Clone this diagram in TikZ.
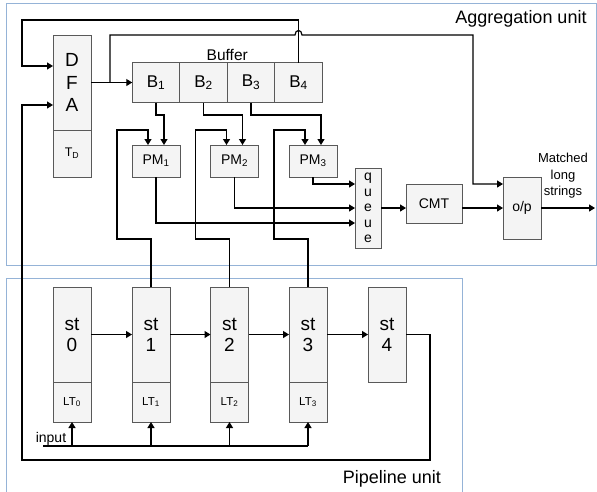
\documentclass[tikz,border=0pt]{standalone}
\usepackage{fontspec}
\setmainfont{Liberation Sans}
\usetikzlibrary{arrows.meta,positioning}
\definecolor{unitblue}{RGB}{149,179,215}
\definecolor{boxfill}{RGB}{244,244,244}

\begin{document}
\begin{tikzpicture}[x=1pt, y=-1pt,
  blk/.style={draw=black!65, fill=boxfill, line width=0.9pt, inner sep=0pt,
    outer sep=0pt, align=center},
  stage/.style={blk, minimum width=38pt, minimum height=95pt,
    font=\fontsize{19}{21}\selectfont},
  lt/.style={blk, minimum width=38pt, minimum height=40pt,
    font=\fontsize{11.5}{13}\selectfont},
  cell/.style={blk, minimum width=47.5pt, minimum height=40pt,
    font=\fontsize{17}{19}\selectfont},
  pm/.style={blk, minimum width=48pt, minimum height=32pt,
    font=\fontsize{14}{16}\selectfont},
  unit/.style={draw=unitblue, line width=0.9pt},
  lbl/.style={inner sep=1pt, font=\fontsize{14}{16}\selectfont},
  wire/.style={line width=1.2pt},
  arr/.style={wire, -{Triangle[length=6pt, width=7pt]}}
]
  \useasboundingbox (0,0) rectangle (597,491);

  % the two units
  \draw[unit] (6,3) rectangle (596,265);
  \node[lbl, font=\fontsize{18}{20}\selectfont] (agglbl) at (521,19) {Aggregation unit};
  \draw[unit] (6,278) rectangle (462,495);
  \node[lbl, font=\fontsize{18}{20}\selectfont] (pipelbl) at (392,479) {Pipeline unit};

  % aggregation side
  \node[stage, font=\fontsize{19}{22.5}\selectfont] (dfa) at (72,82.5) {D\\F\\A};
  \node[lt, minimum height=47pt, font=\fontsize{12.5}{14}\selectfont, below=0pt of dfa] (td) {T\textsubscript{D}};

  \node[cell] (b1) at (156,82.5) {B\textsubscript{1}};
  \node[cell, right=0pt of b1] (b2) {B\textsubscript{2}};
  \node[cell, right=0pt of b2] (b3) {B\textsubscript{3}};
  \node[cell, right=0pt of b3] (b4) {B\textsubscript{4}};
  \node[lbl, font=\fontsize{15.5}{17}\selectfont, above=0.5pt of b2.north east] (buflbl) {Buffer};

  \node[pm] (pm1) at (156,161) {PM\textsubscript{1}};
  \node[pm] (pm2) at (234.5,161) {PM\textsubscript{2}};
  \node[pm] (pm3) at (313,161) {PM\textsubscript{3}};

  \node[blk, minimum width=26pt, minimum height=80pt, font=\fontsize{14}{15.5}\selectfont] (q) at (368,208) {q\\u\\e\\u\\e};
  \node[blk, minimum width=56pt, minimum height=39pt, font=\fontsize{14}{16}\selectfont] (cmt) at (434,203.5) {CMT};
  \node[blk, minimum width=38pt, minimum height=62pt, font=\fontsize{14}{16}\selectfont] (op) at (522,208) {o/p};
  \coordinate (out) at (595,208);
  \node[lbl, align=center, font=\fontsize{13}{16.5}\selectfont] (outlbl) at (563,176) {Matched\\long\\strings};

  % pipeline side
  \foreach \i/\x in {0/72,1/151,2/229.5,3/308} {
    \node[stage] (st\i) at (\x,334.5) {st\\\i};
    \node[lt, below=0pt of st\i] (lt\i) {LT\textsubscript{\i}};
  }
  \node[stage] (st4) at (387,334.5) {st\\4};

  \coordinate (split) at (110,82.5);
  \coordinate (drop) at (473,35);
  \coordinate (hop) at (b4.north |- drop);
  \coordinate (fbtop) at (22,20);
  \coordinate (fbl) at (22,460);
  \coordinate (fbr) at (430,460);
  \coordinate (inp) at (43,446);

  % connectors
  \draw[arr] (dfa.east) -- (b1.west);
  \draw[arr] (split) |- ([xshift=-3.5pt]hop) .. controls +(0,-6) and +(0,-6) .. ([xshift=3.5pt]hop)
    -- (drop) |- ([yshift=24pt]op.west);
  \draw[arr] (b4.north) |- (fbtop) |- ([yshift=16.5pt]dfa.west);
  \draw[arr] (st4.east) -| (fbr) -- (fbl) |- ([yshift=-22.5pt]dfa.west);

  \foreach \i in {1,2,3} {
    \draw[arr] (b\i.south) -- ++(0,12.5) -| ([xshift=8pt]pm\i.north);
    \draw[arr] (st\i.north) -- ++(0,-48) -| ++(-34,-109) -| ([xshift=-8pt]pm\i.north);
  }

  \draw[arr] (pm1.south) |- ([yshift=-15pt]q.west);
  \draw[arr] (pm2.south) |- (q.west);
  \draw[arr] (pm3.south) |- ([yshift=24pt]q.west);
  \draw[arr] (q.east) -- (q.east -| cmt.west);
  \draw[arr] (cmt.east |- op) -- (op.west);
  \draw[arr] (op.east) -- (out);

  \foreach \a/\b in {0/1,1/2,2/3,3/4}
    \draw[arr] (st\a) -- (st\b);

  \draw[wire] (inp) -- (inp -| lt3.south);
  \foreach \i in {0,...,3}
    \draw[arr] (inp -| lt\i.south) -- (lt\i.south);
  \node[lbl, anchor=base] (inlbl) at (51,442) {input};
\end{tikzpicture}
\end{document}
